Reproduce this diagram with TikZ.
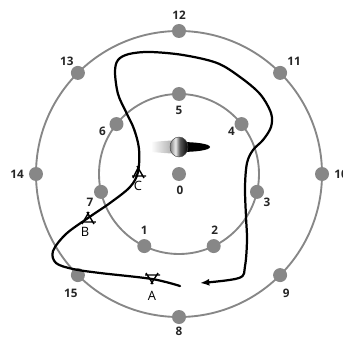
\documentclass[tikz,border=0pt]{standalone}
\usepackage{fontspec}
\setmainfont{Open Sans}
\usetikzlibrary{arrows.meta}
\definecolor{ringgray}{RGB}{135,135,135}
\definecolor{fadegray}{RGB}{150,150,150}
\pgfdeclarehorizontalshading{nucleus}{100bp}{color(0bp)=(gray); color(25bp)=(gray); color(40bp)=(white!85!gray); color(52bp)=(gray!70!black); color(75bp)=(black); color(100bp)=(black)}
\tikzset{
  ring/.style={draw=ringgray, line width=1.6pt},
  dot/.style={circle, fill=ringgray, inner sep=0pt, minimum size=4.2mm},
  num/.style={font=\fontsize{10}{11}\selectfont\bfseries, text=black!85, inner sep=0pt},
  tag/.style={font=\fontsize{11}{12}\selectfont, inner sep=0pt},
  track/.style={line width=1.9pt, line cap=round},
  marker/.style={line width=1.2pt}
}
\begin{document}
\begin{tikzpicture}[x=0.03cm, y=0.03cm]
  \useasboundingbox (-179,-163) rectangle (164,174);
  % rings
  \draw[ring] (0,0) circle (143);
  \draw[ring] (0,0) circle (80);
  % outer dots
  \foreach \n/\a/\dx/\dy in {12/90/0/16, 11/45/14/12, 10/0/19/0, 9/-45/6/-18,
      8/-90/0/-14, 15/-135/-7/-18, 14/180/-19/0, 13/135/-11/12}{
    \node[dot] (o\n) at (\a:143) {};
    \node[num] (l\n) at ([shift={(\dx,\dy)}]o\n) {\n};
  }
  % inner dots
  \foreach \n/\a/\dx/\dy in {5/90/0/-16, 4/38.6/-10/-7, 3/-12.9/10/-10, 2/-64.3/1/16,
      1/-115.7/0/16, 7/192.9/-11/-10, 6/141.4/-14/-7}{
    \node[dot] (i\n) at (\a:80) {};
    \node[num] (l\n) at ([shift={(\dx,\dy)}]i\n) {\n};
  }
  \node[dot] (i0) at (0,0) {};
  \node[num] (l0) at ([shift={(1,-16)}]i0) {0};
  % spinning object
  \shade[left color=white, right color=fadegray] (-28,22) .. controls (-15,21) .. (0,20)
    -- (0,34) .. controls (-15,33) .. (-28,32) -- cycle;
  \fill[black] (0,32) .. controls (18,32) and (31,30) .. (31,27)
    .. controls (31,24) and (18,22) .. (0,22) -- cycle;
  \shade[shading=nucleus, draw=gray!60!black, line width=0.4pt] (0,27) ellipse (9 and 10);
  % trajectory
  \coordinate (start) at (1,-112);
  \coordinate (A) at (-27,-105);
  \coordinate (B) at (-91,-44);
  \coordinate (C) at (-41,2);
  \coordinate (stop) at (21,-109);
  \draw[track, -{Latex[length=2.8mm, width=2.1mm]}] plot[smooth, tension=0.55] coordinates {
    (start) (A) (-79,-99) (-106,-95) (-123,-89) (-126,-77) (-113,-60) (B) (-69,-29)
    (-49,-13) (C) (-40,25) (-45,45) (-53,62) (-61,80) (-64,102) (-61,114) (-50,120)
    (-29,122) (4,119) (38,111) (61,97) (81,80) (92,61) (92,47) (84,34) (74,24)
    (68,11) (66,-13) (67,-43) (68,-66) (66,-92) (60,-104) (stop)};
  % markers
  \draw[marker] ([shift={(-7,4)}]A) -- ([shift={(8,4)}]A)
    ([shift={(-6,6)}]A) -- ([shift={(1,-5)}]A) ([shift={(6,6)}]A) -- ([shift={(-1,-5)}]A);
  \draw[marker] ([shift={(-7,-4)}]B) -- ([shift={(8,-4)}]B)
    ([shift={(-6,-6)}]B) -- ([shift={(1,6)}]B) ([shift={(6,-6)}]B) -- ([shift={(-1,6)}]B);
  \draw[marker] ([shift={(-6,-4)}]C) -- ([shift={(8,-4)}]C)
    ([shift={(-5,-6)}]C) -- ([shift={(1,6)}]C) ([shift={(6,-6)}]C) -- ([shift={(-1,6)}]C);
  \node[tag] (tA) at ([shift={(0,-17)}]A) {A};
  \node[tag] (tB) at ([shift={(-3,-14)}]B) {B};
  \node[tag] (tC) at ([shift={(0,-14)}]C) {C};
\end{tikzpicture}
\end{document}
